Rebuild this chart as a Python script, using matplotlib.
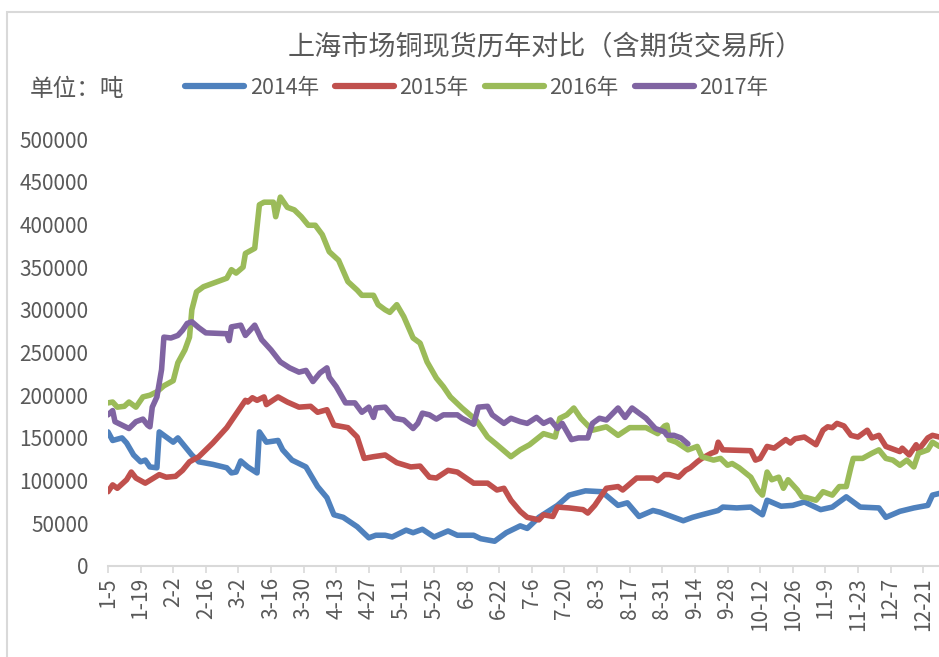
import numpy as np
import pandas as pd
import matplotlib
matplotlib.use("Agg")
import matplotlib.pyplot as plt
from matplotlib.patches import Rectangle

plt.rcParams['font.family'] = ['Noto Sans CJK SC', 'DejaVu Sans']

# ---- data (x = day of year, y = tons) ----
doy_2014 = [5, 7, 11, 13, 16, 19, 21, 23, 26, 27, 30, 33, 35, 38, 41, 44, 50, 56, 58, 60, 62, 65, 69, 70,
            73, 78, 80, 84, 90, 95, 99, 102, 106, 112, 117, 120, 124, 127, 133, 136, 140, 145, 151, 155,
            162, 165, 171, 176, 182, 185, 190, 198, 203, 210, 217, 224, 228, 233, 239, 242, 245, 252, 256,
            260, 267, 269, 275, 281, 286, 288, 294, 299, 304, 311, 316, 322, 328, 336, 339, 345, 351, 357,
            359, 362]
val_2014 = [157000, 147000, 150000, 144000, 130000, 122000, 124000, 116000, 115000, 157000, 151000, 145000,
            150000, 140000, 130000, 122000, 119000, 115000, 109000, 110000, 123000, 116000, 109000, 157000,
            145000, 147000, 136000, 124000, 116000, 93000, 80000, 60000, 57000, 46000, 33000, 36000, 36000,
            34000, 42000, 39000, 43000, 34000, 41000, 36000, 36000, 32000, 29000, 39000, 47000, 44000, 57000,
            71000, 83000, 88000, 87000, 71000, 74000, 58000, 65000, 63000, 60000, 53000, 57000, 60000, 65000,
            69000, 68000, 69000, 60000, 77000, 70000, 71000, 75000, 66000, 69000, 81000, 69000, 68000, 57000,
            64000, 68000, 71000, 83000, 85000]

doy_2015 = [5, 7, 9, 13, 15, 17, 21, 24, 27, 30, 34, 37, 40, 44, 50, 56, 62, 64, 65, 67, 69, 72, 73, 78, 82,
            87, 92, 95, 99, 102, 108, 112, 115, 119, 124, 129, 135, 139, 143, 146, 151, 155, 162, 168, 172,
            175, 178, 182, 185, 190, 192, 196, 198, 203, 209, 211, 214, 219, 224, 226, 232, 239, 241, 244,
            246, 250, 253, 255, 258, 260, 264, 266, 267, 269, 281, 283, 285, 288, 291, 296, 298, 300, 304,
            309, 312, 314, 316, 318, 321, 324, 327, 331, 333, 336, 339, 345, 346, 349, 352, 353, 357, 359, 362]
val_2015 = [87000, 95000, 91000, 101000, 110000, 103000, 97000, 102000, 107000, 104000, 105000, 112000,
            122000, 128000, 144000, 162000, 186000, 194000, 192000, 197000, 194000, 198000, 189000, 198000,
            192000, 186000, 187000, 180000, 183000, 165000, 162000, 151000, 126000, 128000, 130000, 121000,
            116000, 117000, 104000, 103000, 112000, 110000, 97000, 97000, 89000, 91000, 77000, 64000, 57000,
            54000, 60000, 58000, 69000, 68000, 66000, 62000, 71000, 91000, 93000, 89000, 103000, 103000,
            100000, 107000, 107000, 104000, 112000, 115000, 122000, 126000, 132000, 134000, 145000, 136000,
            135000, 124000, 126000, 140000, 138000, 148000, 144000, 149000, 151000, 142000, 159000, 163000,
            162000, 167000, 164000, 153000, 151000, 159000, 150000, 153000, 140000, 134000, 138000, 130000,
            142000, 136000, 150000, 153000, 151000]

doy_2016 = [5, 7, 9, 12, 14, 17, 20, 23, 26, 29, 33, 35, 38, 40, 41, 43, 46, 50, 56, 58, 60, 63, 64, 68, 70,
            72, 76, 77, 79, 82, 85, 88, 91, 94, 97, 100, 104, 108, 112, 114, 119, 121, 124, 126, 129, 132,
            136, 139, 142, 146, 149, 152, 157, 163, 168, 172, 178, 182, 186, 192, 197, 199, 202, 205, 208,
            213, 219, 224, 229, 236, 241, 244, 245, 246, 249, 254, 258, 260, 265, 268, 271, 273, 276, 281,
            284, 286, 288, 290, 293, 295, 297, 301, 303, 305, 309, 312, 316, 319, 322, 324, 325, 329, 333,
            336, 339, 342, 345, 348, 351, 353, 357, 359, 362]
val_2016 = [191000, 192000, 186000, 187000, 192000, 186000, 198000, 200000, 204000, 211000, 217000, 238000,
            253000, 268000, 300000, 321000, 327000, 331000, 337000, 347000, 343000, 350000, 366000, 372000,
            423000, 426000, 426000, 409000, 432000, 420000, 417000, 409000, 399000, 399000, 388000, 368000,
            358000, 333000, 323000, 317000, 317000, 306000, 300000, 297000, 306000, 292000, 267000, 261000,
            239000, 220000, 210000, 198000, 185000, 171000, 151000, 142000, 128000, 136000, 142000, 155000,
            151000, 173000, 177000, 185000, 173000, 159000, 163000, 153000, 162000, 162000, 155000, 164000,
            165000, 148000, 145000, 136000, 140000, 128000, 124000, 126000, 118000, 120000, 115000, 104000,
            89000, 83000, 110000, 101000, 104000, 91000, 101000, 89000, 81000, 80000, 77000, 87000, 83000,
            93000, 93000, 116000, 126000, 126000, 132000, 136000, 126000, 124000, 118000, 124000, 116000,
            132000, 136000, 145000, 140000]

doy_2017 = [5, 7, 8, 11, 14, 17, 20, 22, 23, 24, 26, 28, 29, 32, 35, 37, 39, 41, 44, 47, 56, 57, 58, 62, 64,
            66, 68, 71, 75, 79, 83, 87, 90, 93, 96, 99, 100, 103, 107, 111, 114, 117, 119, 120, 124, 128,
            132, 136, 138, 140, 143, 146, 149, 155, 157, 162, 164, 168, 170, 175, 178, 182, 185, 189, 192,
            195, 198, 200, 204, 207, 211, 213, 216, 219, 224, 227, 230, 233, 236, 240, 244, 245, 248, 251, 254]
val_2017 = [177000, 182000, 169000, 165000, 161000, 169000, 172000, 165000, 163000, 186000, 198000, 230000,
            268000, 267000, 270000, 276000, 284000, 286000, 279000, 273000, 272000, 264000, 280000, 282000,
            270000, 276000, 282000, 265000, 253000, 239000, 232000, 227000, 229000, 216000, 226000, 232000,
            221000, 210000, 191000, 191000, 180000, 186000, 174000, 185000, 186000, 173000, 171000, 161000,
            167000, 179000, 177000, 172000, 177000, 177000, 173000, 166000, 186000, 187000, 177000, 167000,
            173000, 169000, 167000, 174000, 167000, 171000, 161000, 167000, 148000, 150000, 150000, 167000,
            173000, 171000, 185000, 174000, 185000, 179000, 173000, 161000, 157000, 153000, 153000, 150000,
            143000]

series_names = ['2014年', '2015年', '2016年', '2017年']
colors = ['#4F81BD', '#C0504D', '#9BBB59', '#8064A2']
tick_labels = ['1-5', '1-19', '2-2', '2-16', '3-2', '3-16', '3-30', '4-13', '4-27', '5-11', '5-25',
               '6-8', '6-22', '7-6', '7-20', '8-3', '8-17', '8-31', '9-14', '9-28', '10-12', '10-26',
               '11-9', '11-23', '12-7', '12-21']
y_ticks = [0, 50000, 100000, 150000, 200000, 250000, 300000, 350000, 400000, 450000, 500000]

title = '上海市场铜现货历年对比（含期货交易所）'
unit_label = '单位：吨'

# ---- figure ----
W, H = 939, 657
fig = plt.figure(figsize=(W / 100, H / 100), dpi=100)
ax = fig.add_axes([108 / W, 1 - 566 / H, 1 - 108 / W, (566 - 139) / H])

txt = '#595959'
data = [(doy_2014, val_2014), (doy_2015, val_2015), (doy_2016, val_2016), (doy_2017, val_2017)]
for (x, y), name, c in zip(data, series_names, colors):
    ax.plot(x, y, color=c, lw=4.0, label=name, solid_joinstyle='round', solid_capstyle='round')

tick_pos = [pd.Timestamp(f'2015-{s}').dayofyear for s in tick_labels]
ax.set_xticks(tick_pos)
ax.set_xticklabels(tick_labels, rotation=90, fontsize=15, color=txt)
ax.set_xlim(5, 5 + (W - 108) / 2.329)
ax.set_ylim(0, 500000)
ax.set_yticks(y_ticks)
ax.set_yticklabels([str(v) for v in y_ticks], fontsize=15, color=txt)

for s in ['top', 'right', 'left']:
    ax.spines[s].set_visible(False)
ax.spines['bottom'].set_color('#d9d9d9')
ax.spines['bottom'].set_linewidth(1.5)
ax.tick_params(axis='x', direction='out', length=5, width=1.2, color='#d9d9d9', pad=3)
ax.tick_params(axis='y', length=0, pad=14)

fig.text(545 / W, 1 - 47 / H, title, ha='center', va='center', fontsize=19.5, color=txt)
fig.text(30 / W, 1 - 90 / H, unit_label, ha='left', va='center', fontsize=17, color=txt)

leg = fig.legend(loc='center left', bbox_to_anchor=(185 / W, 1 - 88 / H), ncol=4, frameon=False,
                 fontsize=15.5, handlelength=2.75, handletextpad=0.25, columnspacing=0.75,
                 borderpad=0, borderaxespad=0, labelcolor=txt)
for h in leg.legend_handles:
    h.set_linewidth(4.5)

# chart frame border
fig.add_artist(Rectangle((7 / W, -0.2), 1.2, 1 - 12 / H + 0.2, transform=fig.transFigure,
                         fill=False, edgecolor='#d9d9d9', lw=1.5, zorder=0))

fig.savefig('out.png', dpi=100)
